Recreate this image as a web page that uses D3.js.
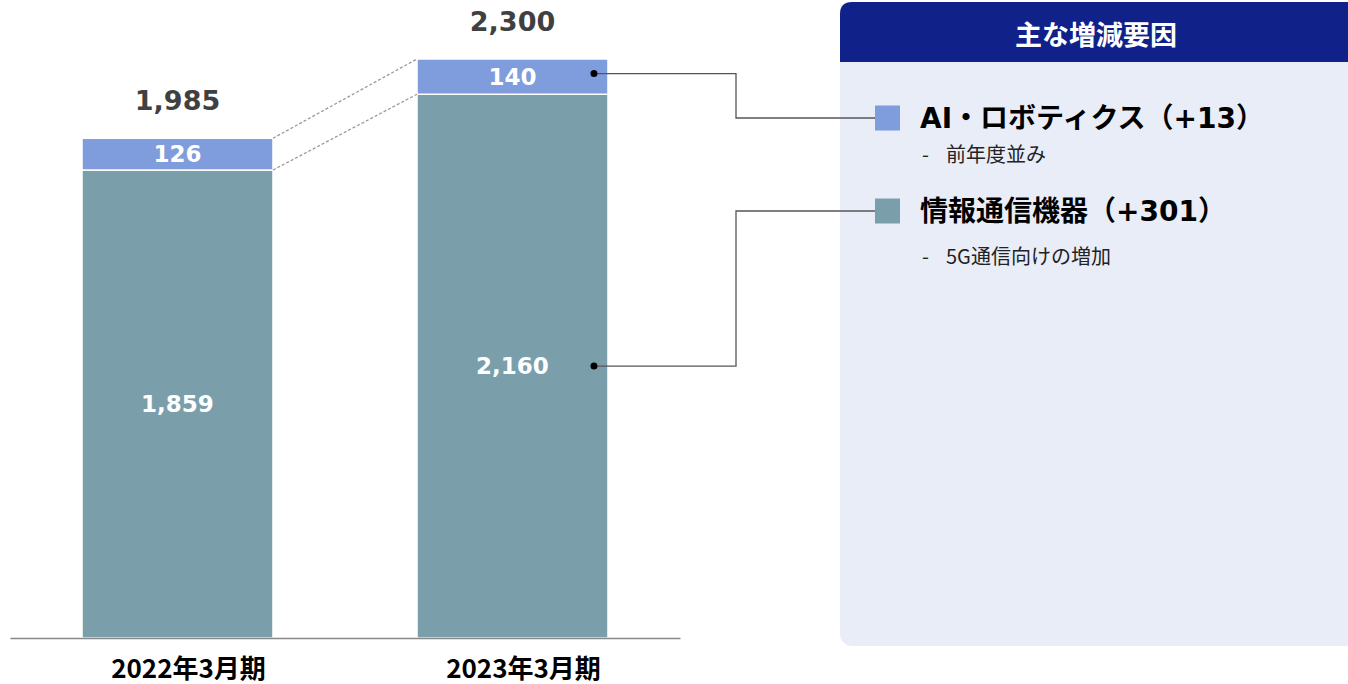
<!DOCTYPE html>
<html>
<head>
<meta charset="utf-8">
<script src="https://cdn.jsdelivr.net/npm/d3@7"></script>
<style>
  html, body { margin: 0; padding: 0; background: #fff; }
  svg { display: block; }
</style>
</head>
<body>
<svg id="chart" width="1348" height="684"></svg>
<script>
// Fiscal periods and segment sales (stacked bottom → top)
const periods = ["2022年3月期", "2023年3月期"];
const segments = ["情報通信機器", "AI・ロボティクス"];
const infoComm = [1859, 2160];
const aiRobotics = [126, 140];
const totals = [1985, 2300];

// Side panel text
const panelTitle = "主な増減要因";
const legendItems = [
  { key: "AI・ロボティクス", label: "AI・ロボティクス（+13）", note: "前年度並み" },
  { key: "情報通信機器", label: "情報通信機器（+301）", note: "5G通信向けの増加" }
];

const colors = { "情報通信機器": "#7a9fab", "AI・ロボティクス": "#7f9cdd" };
const numFont = "'DejaVu Sans', Verdana, 'Noto Sans CJK JP', sans-serif";
const jpFont = "'Noto Sans CJK JP', 'DejaVu Sans', sans-serif";

const svg = d3.select("#chart");

const rows = periods.map((p, i) => ({
  period: p,
  "情報通信機器": infoComm[i],
  "AI・ロボティクス": aiRobotics[i],
  total: totals[i]
}));

const x = d3.scaleBand().domain(periods).range([10, 680]).paddingInner(0.43).paddingOuter(0.215);
const y = d3.scaleLinear().domain([0, d3.max(totals)]).range([638, 59]);

const stack = d3.stack().keys(segments)(rows);

// Bars
const layers = svg.append("g").selectAll("g").data(stack).join("g")
  .attr("fill", d => colors[d.key]);
layers.selectAll("rect").data(d => d).join("rect")
  .attr("x", d => x(d.data.period))
  .attr("width", x.bandwidth())
  .attr("y", d => y(d[1]))
  .attr("height", d => y(d[0]) - y(d[1]))
  .attr("stroke", "#fff")
  .attr("stroke-width", 1.5);

// Segment value labels
layers.selectAll("text").data(d => d).join("text")
  .attr("x", d => x(d.data.period) + x.bandwidth() / 2)
  .attr("y", d => (y(d[0]) + y(d[1])) / 2)
  .attr("dy", "0.36em")
  .attr("text-anchor", "middle")
  .attr("fill", "#fff")
  .attr("font-family", numFont)
  .attr("font-weight", "bold")
  .attr("font-size", 23)
  .text(d => d3.format(",")(d[1] - d[0]));

// Totals above bars
svg.append("g").selectAll("text").data(rows).join("text")
  .attr("x", d => x(d.period) + x.bandwidth() / 2)
  .attr("y", d => y(d.total) - 28)
  .attr("text-anchor", "middle")
  .attr("fill", "#404040")
  .attr("font-family", numFont)
  .attr("font-weight", "bold")
  .attr("font-size", 27)
  .text(d => d3.format(",")(d.total));

// Dashed connectors between the two bars
const [p0, p1] = periods;
const conn = svg.append("g").attr("stroke", "#9a9a9a").attr("stroke-width", 1.3)
  .attr("stroke-dasharray", "3,2").attr("fill", "none");
[totals, infoComm].forEach(vals => {
  conn.append("line")
    .attr("x1", x(p0) + x.bandwidth()).attr("y1", y(vals[0]))
    .attr("x2", x(p1)).attr("y2", y(vals[1]));
});

// Baseline axis
const xAxis = d3.axisBottom(x).tickSize(0);
const ax = svg.append("g").attr("transform", `translate(0,${y(0)})`).call(xAxis);
ax.select(".domain").attr("stroke", "#888").attr("stroke-width", 1.3);
ax.selectAll(".tick text")
  .attr("y", 40).attr("dy", null).attr("dx", 11)
  .attr("font-family", jpFont)
  .attr("font-weight", "bold")
  .attr("font-size", 26)
  .attr("fill", "#000");

// Side panel
const panel = svg.append("g");
panel.append("rect").attr("x", 840).attr("y", 2).attr("width", 520).attr("height", 644)
  .attr("rx", 12).attr("fill", "#e9edf8");
const headerPath = `M840,62 V14 Q840,2 852,2 H1360 V62 Z`;
panel.append("path").attr("d", headerPath).attr("fill", "#10228a");
panel.append("text").attr("x", 1096).attr("y", 35).attr("dy", "0.36em")
  .attr("text-anchor", "middle").attr("fill", "#fff")
  .attr("font-family", jpFont).attr("font-weight", "bold").attr("font-size", 27)
  .text(panelTitle);

const legendY = d3.scalePoint().domain(legendItems.map(d => d.key)).range([118, 211]);
const leg = panel.selectAll("g.item").data(legendItems).join("g").attr("class", "item");
leg.append("rect")
  .attr("x", 875).attr("y", d => legendY(d.key) - 12.5)
  .attr("width", 25).attr("height", 25)
  .attr("fill", d => colors[d.key]);
leg.append("text")
  .attr("x", 920).attr("y", d => legendY(d.key)).attr("dy", "0.36em")
  .attr("fill", "#000").attr("font-family", numFont).attr("font-weight", "bold")
  .attr("font-size", 28)
  .text(d => d.label);
const notes = leg.append("g")
  .attr("transform", (d, i) => `translate(0,${legendY(d.key) + (i === 0 ? 37 : 46)})`)
  .attr("fill", "#222").attr("font-family", jpFont).attr("font-size", 20);
notes.append("text").attr("x", 922).attr("dy", "0.36em").text("-");
notes.append("text").attr("x", 946).attr("dy", "0.36em").text(d => d.note);

// Callout lines from bar segments to the legend squares
const elbowX = 736;
const lastBar = stack.map(s => s[s.length - 1]);
const callouts = svg.append("g");
lastBar.forEach((d, i) => {
  const key = stack[i].key;
  const cy = (y(d[0]) + y(d[1])) / 2 - (i === 1 ? 3 : 0);
  const sx = x(d.data.period) + x.bandwidth() - 14;
  callouts.append("path")
    .attr("d", `M${sx},${cy} H${elbowX} V${legendY(key)} H875`)
    .attr("fill", "none").attr("stroke", "#555").attr("stroke-width", 1.3);
  callouts.append("circle").attr("cx", sx).attr("cy", cy).attr("r", 3.5).attr("fill", "#000");
});
</script>
</body>
</html>
